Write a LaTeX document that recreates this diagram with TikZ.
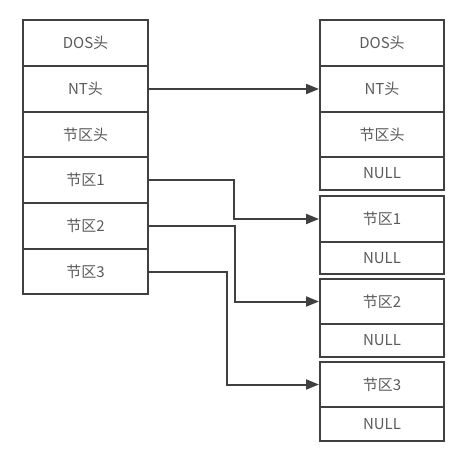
\documentclass[tikz,border=0pt]{standalone}
\usepackage{fontspec}
\setmainfont{Noto Sans CJK SC}
\usetikzlibrary{arrows.meta}
\definecolor{linec}{HTML}{404040}
\definecolor{textc}{HTML}{5A5A5A}
\tikzset{
  cell/.style={draw=linec, line width=2pt, rectangle, inner sep=0pt, text=textc,
    font=\fontsize{15}{15}\selectfont},
  lcell/.style={cell, minimum width=125pt},
  rcell/.style={cell, minimum width=124pt},
  link/.style={draw=linec, line width=2pt, -{Triangle[length=13pt,width=10pt]}}
}
\begin{document}
\begin{tikzpicture}[x=1pt,y=-1pt]
\useasboundingbox (0,0) rectangle (473,457);
% left column
\node[lcell, minimum height=46pt] (Ldos) at (85.5,43) {DOS头};
\node[lcell, minimum height=46pt] (Lnt)  at (85.5,89) {NT头};
\node[lcell, minimum height=45pt] (Lsh)  at (85.5,134.5) {节区头};
\node[lcell, minimum height=46pt] (L1)   at (85.5,180) {节区1};
\node[lcell, minimum height=46pt] (L2)   at (85.5,226) {节区2};
\node[lcell, minimum height=45pt] (L3)   at (85.5,271.5) {节区3};
% right column
\node[rcell, minimum height=46pt] (Rdos) at (382,43) {DOS头};
\node[rcell, minimum height=46pt] (Rnt)  at (382,89) {NT头};
\node[rcell, minimum height=45pt] (Rsh)  at (382,134.5) {节区头};
\node[rcell, minimum height=33pt] (Rn0)  at (382,173.5) {NULL};
\node[rcell, minimum height=46pt] (R1)   at (382,219) {节区1};
\node[rcell, minimum height=32pt] (Rn1)  at (382,258) {NULL};
\node[rcell, minimum height=45pt] (R2)   at (382,301.5) {节区2};
\node[rcell, minimum height=33pt] (Rn2)  at (382,340.5) {NULL};
\node[rcell, minimum height=45pt] (R3)   at (382,384.5) {节区3};
\node[rcell, minimum height=34pt] (Rn3)  at (382,424) {NULL};
% connectors
\draw[link] (Lnt.east) -- (Rnt.west);
\draw[link] (L1.east) -- ++(85,0) |- (R1.west);
\draw[link] (L2.east) -- ++(86,0) |- (R2.west);
\draw[link] (L3.east) -- ++(78,0) |- (R3.west);
\end{tikzpicture}
\end{document}
